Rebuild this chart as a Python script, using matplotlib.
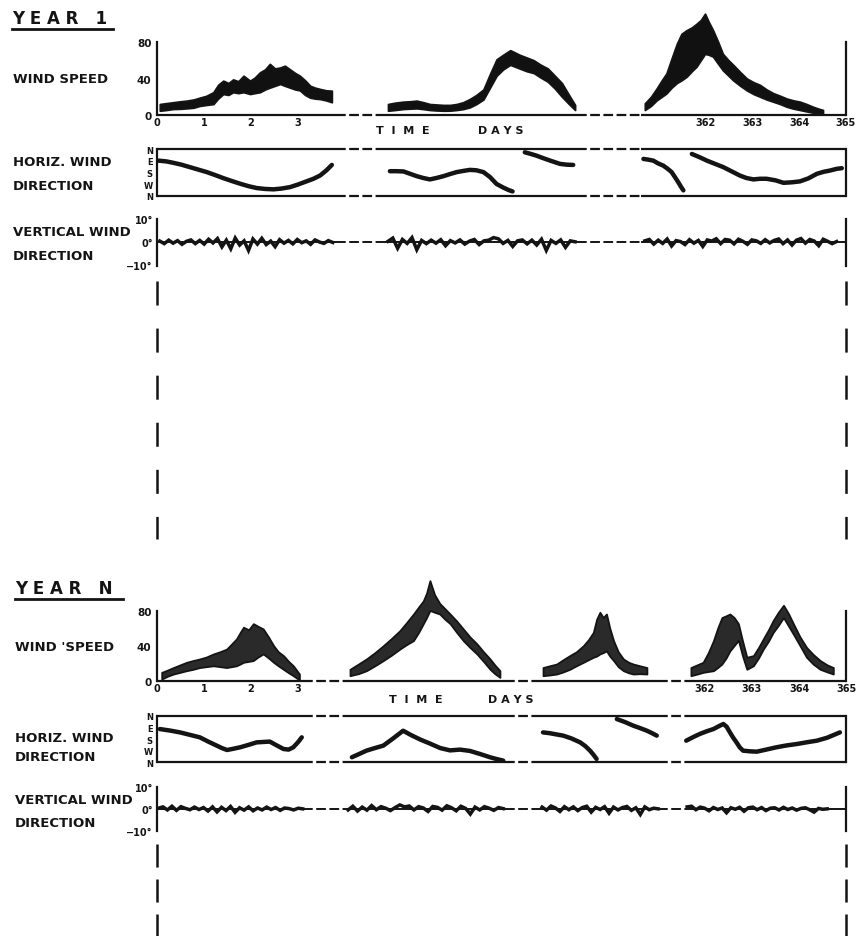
import numpy as np
import matplotlib
matplotlib.use("Agg")
import matplotlib.pyplot as plt

plt.rcParams['font.family'] = ['DejaVu Sans']
plt.rcParams['font.weight'] = 'bold'
plt.rcParams['lines.scale_dashes'] = False

INK = '#141414'
W, H = 857, 937

# ---------------- DATA ----------------
# axis breaks (days) : solid pieces are (k0,k1), (k2,k3), ...
Y1_BREAK_DAYS = [0, 3.8, 179.94, 184.02, 360.64, 365]
YN_BREAK_DAYS = [0, 3.1, 99.9, 103.3, 249.94, 252.45, 361.6, 365]
X_TICKS = [0, 1, 2, 3, 362, 363, 364, 365]
X_TICK_LABELS = ['0', '1', '2', '3', '362', '363', '364', '365']
SPEED_TICKS = [0, 40, 80]
SPEED_TICK_LABELS = ['0', '40', '80']
HDIR_TICKS = [0, 90, 180, 270, 360]
HDIR_TICK_LABELS = ['N', 'E', 'S', 'W', 'N']
VDIR_TICKS = [10, 0, -10]
VDIR_TICK_LABELS = ['10°', '0°', '−10°']

# Year 1 wind speed (band: lower / upper)
y1_spd_a_day = [0.06, 0.2, 0.35, 0.5, 0.63, 0.78, 0.91, 1.05, 1.20, 1.30, 1.41, 1.52, 1.62, 1.73, 1.84, 1.98,
                2.08, 2.19, 2.30, 2.40, 2.51, 2.62, 2.72, 2.83, 2.94, 3.04, 3.15, 3.26, 3.36, 3.47, 3.60, 3.72]
y1_spd_a_hi = [12, 13, 14, 15, 15.7, 17, 19, 21, 25, 33, 37.6, 35, 39, 37, 43, 37.6, 41, 46.7, 50, 56, 51, 52,
               54, 50, 46, 43, 38, 32, 30, 28.5, 27, 26.6]
y1_spd_a_lo = [4.7, 5.5, 6.6, 6.8, 7.3, 8, 10, 11, 12, 18, 23, 22, 25, 24, 25, 23, 24, 25, 28, 30, 32, 34, 32,
               30, 28, 27, 22, 19, 18, 17.5, 16, 14]
y1_spd_b_day = [180.0, 180.15, 180.33, 180.47, 180.61, 180.75, 180.89, 181.03, 181.18, 181.32, 181.46, 181.6,
                181.74, 181.88, 182.03, 182.17, 182.31, 182.45, 182.6, 182.8, 182.95, 183.1, 183.25, 183.4,
                183.55, 183.7, 183.85, 183.98]
y1_spd_b_hi = [12, 13.5, 14.6, 15, 15.7, 14, 12, 11.5, 11, 11, 12, 14, 17.5, 22, 28, 45, 61, 66, 71, 66, 63, 60,
               55, 51, 43, 35, 22, 11]
y1_spd_b_lo = [4.7, 5.5, 6.6, 7, 7.3, 6.5, 5.5, 5, 4.7, 4.8, 5.5, 6.5, 8.4, 12, 17, 30, 43, 50, 55, 51, 48, 46,
               41, 36.5, 29, 20, 12, 5.5]
y1_spd_c_day = [360.72, 360.85, 360.97, 361.08, 361.18, 361.29, 361.40, 361.50, 361.61, 361.72, 361.82, 361.91,
                362.0, 362.08, 362.17, 362.28, 362.38, 362.5, 362.6, 362.75, 362.89, 363.03, 363.17, 363.31,
                363.45, 363.6, 363.74, 363.88, 364.02, 364.16, 364.30, 364.41, 364.51]
y1_spd_c_hi = [12.8, 20, 29, 38, 45.6, 62, 78, 89, 93, 96, 100, 104, 111, 102, 93, 80, 67, 60, 55, 47, 40, 36, 33,
               28, 24, 21, 18, 16, 14.6, 12, 9, 7, 5.5]
y1_spd_c_lo = [5.5, 10, 16, 20, 23.7, 30, 35, 38, 42, 48, 53, 60, 67, 66, 64, 56, 49, 43, 38, 32, 27, 23, 20, 17,
               14.6, 12, 9, 7, 5.5, 4, 2.5, 1.5, 1]

# Year 1 horizontal wind direction (degrees, N = 0 / 360)
y1_hdir_a_day = [0.03, 0.2, 0.35, 0.52, 0.70, 0.88, 1.06, 1.24, 1.41, 1.59, 1.77, 1.95, 2.12, 2.30, 2.48, 2.65,
                 2.83, 3.0, 3.18, 3.33, 3.47, 3.60, 3.72]
y1_hdir_a_deg = [89, 95, 106, 120, 139, 158, 177, 200, 223, 245, 266, 285, 299, 306, 309, 303, 292, 272, 248, 228,
                 203, 165, 122]
y1_hdir_b1_day = [180.04, 180.18, 180.33, 180.47, 180.61, 180.75, 180.89, 181.03, 181.18, 181.32, 181.46, 181.6,
                  181.74, 181.88, 182.03, 182.17, 182.31, 182.45, 182.57, 182.65]
y1_hdir_b1_deg = [170, 170, 172, 190, 208, 222, 233, 222, 208, 192, 177, 168, 160, 163, 177, 215, 268, 295, 315, 325]
y1_hdir_b2_day = [182.91, 183.04, 183.16, 183.3, 183.45, 183.56, 183.66, 183.8, 183.94]
y1_hdir_b2_deg = [25, 38, 51, 70, 89, 102, 114, 120, 122]
y1_hdir_c1_day = [360.69, 360.8, 360.9, 361.0, 361.11, 361.2, 361.29, 361.36, 361.43, 361.49, 361.54]
y1_hdir_c1_deg = [76, 82, 89, 110, 127, 150, 177, 215, 254, 290, 317]
y1_hdir_c2_day = [361.72, 361.88, 362.04, 362.2, 362.39, 362.56, 362.74, 362.88, 363.03, 363.17, 363.31, 363.5,
                  363.67, 363.85, 364.02, 364.2, 364.38, 364.52, 364.66, 364.8, 364.91]
y1_hdir_c2_deg = [38, 62, 89, 112, 139, 170, 203, 222, 233, 228, 228, 240, 259, 255, 248, 225, 190, 175, 165, 152, 147]

# Year 1 vertical wind direction (degrees), evenly spaced samples over each record
y1_vdir_a_span = (0.06, 3.74)
y1_vdir_a = [0.5, -0.6, 0.9, -0.4, 0.7, -0.9, 0.4, 1.0, -0.6, 0.8, -0.8, 1.3, -0.3, 1.6, -2.0, 0.9, -2.8, 1.8,
             -1.2, 0.6, -3.5, 1.4, -0.8, 1.7, -1.0, 0.5, -1.9, 1.1, -0.4, 0.8, -0.7, 1.2, -0.2, 0.6, -0.9, 1.0,
             0.1, -0.5, 0.7, -0.1]
y1_vdir_b_span = (180.0, 183.98)
y1_vdir_b = [0.4, 1.8, -2.6, 1.2, -0.5, 2.0, -3.2, 0.8, -0.6, 0.9, -0.4, 1.1, -1.5, 0.7, -0.3, 1.0, -0.8, 0.5,
             1.2, -1.0, 0.6, 0.9, 2.0, 1.5, -0.5, 0.8, -1.8, 0.6, 1.0, -0.7, 0.9, -1.2, 1.3, -3.5, 0.8, -0.5,
             1.0, -2.2, 0.6, 0.2]
y1_vdir_c_span = (360.72, 364.8)
y1_vdir_c = [0.6, 1.2, -0.8, 0.9, -0.5, 1.4, -1.6, 0.7, 0.3, -1.0, 1.1, -0.4, 0.8, -1.8, 1.0, 0.5, 1.5, -0.6,
             1.2, 0.9, -0.7, 1.3, 0.4, -0.9, 1.0, 0.6, -0.5, 1.1, -0.3, 0.8, 1.4, -0.6, 1.0, -1.2, 0.9, 1.6,
             -0.4, 1.2, 0.5, -1.5, 1.3, 0.4, -0.6, 0.3]

# Year N wind speed
yn_spd_a_day = [0.10, 0.22, 0.35, 0.49, 0.63, 0.77, 0.91, 1.05, 1.20, 1.34, 1.48, 1.59, 1.69, 1.77, 1.84, 1.95,
                2.05, 2.15, 2.26, 2.37, 2.48, 2.58, 2.69, 2.80, 2.90, 3.03]
yn_spd_a_hi = [9.5, 12, 15, 18, 21, 23, 24.8, 27, 30.5, 33, 36, 42, 47.6, 55, 61, 58, 65, 62, 59, 50, 40, 33,
               28.6, 22, 17, 7.6]
yn_spd_a_lo = [1.9, 5, 7.6, 9.5, 11.4, 13, 15, 16, 17, 16, 15, 16, 17, 19, 21, 22, 23, 27, 30.5, 26, 21, 17, 13,
               9, 5.7, 0.8]
yn_spd_b_day = [100.0, 100.18, 100.35, 100.53, 100.71, 100.88, 101.06, 101.2, 101.35, 101.46, 101.56, 101.63,
                101.70, 101.8, 101.91, 102.02, 102.13, 102.27, 102.41, 102.55, 102.70, 102.84, 102.98, 103.08,
                103.19]
yn_spd_b_hi = [13, 19, 24.8, 32, 40, 48, 57, 66, 76, 84, 91, 100, 114, 98, 88, 82, 76, 68, 59, 50, 42, 33, 24.8,
               18, 11.4]
yn_spd_b_lo = [5.7, 8, 11.4, 17, 23, 29, 36, 41, 45.7, 55, 65, 72, 80, 78, 76, 70, 65, 55, 45.7, 38, 30.5, 22, 13,
               8, 3.8]
yn_spd_c_day = [250.0, 250.14, 250.29, 250.43, 250.57, 250.71, 250.86, 250.97, 251.07, 251.14, 251.21, 251.28,
                251.35, 251.42, 251.50, 251.6, 251.71, 251.82, 251.92, 252.06, 252.21]
yn_spd_c_hi = [15, 17, 19, 24, 28.6, 33, 40, 47, 55, 70, 78, 72, 76, 60, 45.7, 33, 24.8, 21, 19, 17, 15]
yn_spd_c_lo = [5.7, 6.5, 7.6, 10, 13, 17, 21, 24, 26.7, 28, 30.5, 32, 34, 28, 23, 16, 11.4, 9, 7.6, 8, 7.6]
yn_spd_d_day = [361.70, 361.83, 361.96, 362.07, 362.18, 362.27, 362.36, 362.45, 362.53, 362.62, 362.71, 362.80,
                362.89, 363.03, 363.14, 363.24, 363.35, 363.45, 363.56, 363.67, 363.78, 363.88, 364.02, 364.16,
                364.3, 364.45, 364.6, 364.73]
yn_spd_d_hi = [15, 18, 21, 32, 45.7, 60, 72, 74, 76, 72, 65, 45, 26.7, 28.6, 38, 47.6, 58, 68.6, 78, 86, 76, 65,
               50, 38, 30, 23, 18, 15]
yn_spd_d_lo = [5.7, 7.5, 9.5, 10.5, 11.4, 15, 19, 26, 34, 40, 46, 28, 13, 17, 26, 36, 45, 55, 63, 72, 62, 53, 40,
               26.7, 19, 13, 10, 7.6]

# Year N horizontal wind direction
yn_hdir_a_day = [0.06, 0.28, 0.49, 0.70, 0.91, 1.09, 1.27, 1.38, 1.49, 1.63, 1.77, 1.95, 2.12, 2.26, 2.40, 2.55,
                 2.69, 2.80, 2.90, 3.0, 3.08]
yn_hdir_a_deg = [103, 115, 129, 148, 167, 200, 231, 250, 265, 255, 244, 225, 206, 203, 200, 230, 257, 262, 244,
                 205, 167]
yn_hdir_b_day = [100.04, 100.2, 100.35, 100.53, 100.71, 100.92, 101.13, 101.3, 101.5, 101.70, 101.92, 102.13,
                 102.34, 102.55, 102.76, 102.98, 103.12, 103.26]
yn_hdir_b_deg = [321, 295, 270, 250, 231, 175, 116, 150, 185, 215, 250, 268, 262, 272, 295, 321, 335, 347]
yn_hdir_c1_day = [250.0, 250.14, 250.29, 250.43, 250.6, 250.79, 250.9, 251.0, 251.07, 251.14]
yn_hdir_c1_deg = [129, 135, 145, 154, 175, 206, 235, 270, 300, 334]
yn_hdir_c2_day = [251.57, 251.75, 251.92, 252.06, 252.21, 252.32, 252.42]
yn_hdir_c2_deg = [26, 50, 77, 95, 116, 135, 154]
yn_hdir_d_day = [361.6, 361.75, 361.89, 362.04, 362.18, 362.3, 362.39, 362.46, 362.53, 362.6, 362.67, 362.74,
                 362.81, 362.95, 363.10, 363.3, 363.52, 363.73, 363.95, 364.17, 364.38, 364.6, 364.87]
yn_hdir_d_deg = [193, 165, 141, 120, 103, 80, 64, 85, 129, 170, 206, 245, 270, 275, 278, 262, 244, 230, 219, 205,
                 193, 170, 129]

# Year N vertical wind direction
yn_vdir_a_span = (0.03, 3.1)
yn_vdir_a = [0.3, 0.9, -0.5, 1.2, -0.7, 1.0, 0.2, -0.4, 0.8, -0.3, 0.6, -1.0, 0.9, -1.4, 0.7, -0.8, 1.1, -1.6,
             0.5, -0.6, 0.9, -0.9, 0.4, -0.5, 0.8, -0.3, 0.6, -0.7, 0.4, 0.1, -0.5, 0.3, 0.0]
yn_vdir_b_span = (99.96, 103.26)
yn_vdir_b = [-0.5, 1.2, -1.0, 0.8, -0.6, 1.5, -0.4, 1.0, 0.3, -0.8, 0.6, 1.8, 0.9, 1.3, -0.5, 1.0, 0.4, -1.2,
             1.1, 0.7, -0.6, 1.4, 0.5, -0.9, 1.2, 0.2, -2.4, 0.8, -0.5, 1.0, 0.3, -0.7, 0.6, 0.1]
yn_vdir_c_span = (249.98, 252.45)
yn_vdir_c = [0.8, -0.6, 1.3, 0.4, -1.2, 1.0, -0.4, 0.9, -0.8, 0.6, 1.2, -1.5, 0.7, -0.3, 1.0, -2.0, 0.8, -0.5,
             0.6, 1.1, -0.7, 0.5, -2.6, 0.9, -0.4, 0.3, 0.0]
yn_vdir_d_span = (361.62, 364.6)
yn_vdir_d = [0.9, 1.2, -0.4, 0.8, 0.3, -0.9, 0.6, -0.3, 0.4, -1.8, 0.5, -0.2, 0.7, -1.1, 0.5, 0.8, -0.4, 0.6,
             -0.8, 0.3, 0.5, -0.5, 0.7, -0.3, 0.4, -0.6, 0.2, 0.5, -0.4, -1.5, 0.2, -0.2, 0.0]


# ---------------- helpers ----------------
def piecewise(kx, ky):
    kx = np.asarray(kx, float)
    ky = np.asarray(ky, float)
    s0 = (ky[1] - ky[0]) / (kx[1] - kx[0])
    s1 = (ky[-1] - ky[-2]) / (kx[-1] - kx[-2])

    def f(v):
        v = np.asarray(v, float)
        out = np.interp(v, kx, ky)
        out = np.where(v < kx[0], ky[0] + (v - kx[0]) * s0, out)
        out = np.where(v > kx[-1], ky[-1] + (v - kx[-1]) * s1, out)
        return out
    return f


def break_pixels(days, segs_start_px):
    # positions of the axis pieces on the page (47 px per day inside each piece)
    px = []
    for i in range(0, len(days), 2):
        p0 = segs_start_px[i // 2]
        px.append(p0)
        px.append(p0 + 47.0 * (days[i + 1] - days[i]))
    return px


def rect(l, t, r, b):
    return [l / W, 1 - b / H, (r - l) / W, (b - t) / H]


def ftext(x, y, s, size=9.5, ha='left'):
    fig.text(x / W, 1 - y / H, s, fontsize=size, fontweight='bold', ha=ha, va='center', color=INK)


def broken_line(ax, kd, yv, lw=1.6):
    for i in range(0, len(kd), 2):
        ax.plot([kd[i], kd[i + 1]], [yv, yv], color=INK, lw=lw, solid_capstyle='butt', clip_on=False)
        if i + 2 < len(kd):
            ax.plot([kd[i + 1], kd[i + 2]], [yv, yv], color=INK, lw=lw, ls=(0, (7, 2.5)), clip_on=False)


def make_axes(rc, kd, kp, ylim):
    ax = fig.add_axes(rect(*rc))
    fwd = piecewise(kd, kp)
    inv = piecewise(kp, kd)
    ax.set_xscale('function', functions=(fwd, inv))
    ax.set_xlim(kd[0], kd[-1])
    ax.set_ylim(*ylim)
    ax.patch.set_alpha(0)
    for s in ('top', 'bottom'):
        ax.spines[s].set_visible(False)
    for s in ('left', 'right'):
        ax.spines[s].set_linewidth(1.6)
        ax.spines[s].set_color(INK)
    ax.tick_params(length=0, colors=INK)
    ax.set_xticks([])
    return ax


fig = plt.figure(figsize=(W / 100, H / 100), dpi=100)
fig.patch.set_facecolor('white')

years = [
    dict(title='Y E A R   1', ty=19, ul=(12, 113, 30), lx=13,
         kd=Y1_BREAK_DAYS, starts=[157, 385.2, 641.1],
         spd=(43, 116), hdir=(150, 197), vdir=(220, 266.5),
         labels=[('WIND SPEED', 79.5), ('HORIZ. WIND', 162.5), ('DIRECTION', 186),
                 ('VERTICAL WIND', 232), ('DIRECTION', 257)],
         time_y=131, time_x=(403, 501),
         speed=[(y1_spd_a_day, y1_spd_a_lo, y1_spd_a_hi), (y1_spd_b_day, y1_spd_b_lo, y1_spd_b_hi),
                (y1_spd_c_day, y1_spd_c_lo, y1_spd_c_hi)],
         sfill='#111111',
         hd=[(y1_hdir_a_day, y1_hdir_a_deg), (y1_hdir_b1_day, y1_hdir_b1_deg), (y1_hdir_b2_day, y1_hdir_b2_deg),
             (y1_hdir_c1_day, y1_hdir_c1_deg), (y1_hdir_c2_day, y1_hdir_c2_deg)],
         vd=[(y1_vdir_a_span, y1_vdir_a), (y1_vdir_b_span, y1_vdir_b), (y1_vdir_c_span, y1_vdir_c)],
         dash=(282, 540, (0, (17.3, 16.6)))),
    dict(title='Y E A R   N', ty=589, ul=(15, 123, 600), lx=15,
         kd=YN_BREAK_DAYS, starts=[157, 345.3, 540.2, 686.2],
         spd=(611.5, 681.7), hdir=(716.7, 763.3), vdir=(788, 831.7),
         labels=[("WIND 'SPEED", 647.5), ('HORIZ. WIND', 739), ('DIRECTION', 757.5),
                 ('VERTICAL WIND', 801), ('DIRECTION', 824)],
         time_y=700, time_x=(416, 511),
         speed=[(yn_spd_a_day, yn_spd_a_lo, yn_spd_a_hi), (yn_spd_b_day, yn_spd_b_lo, yn_spd_b_hi),
                (yn_spd_c_day, yn_spd_c_lo, yn_spd_c_hi), (yn_spd_d_day, yn_spd_d_lo, yn_spd_d_hi)],
         sfill='#2a2a2a',
         hd=[(yn_hdir_a_day, yn_hdir_a_deg), (yn_hdir_b_day, yn_hdir_b_deg), (yn_hdir_c1_day, yn_hdir_c1_deg),
             (yn_hdir_c2_day, yn_hdir_c2_deg), (yn_hdir_d_day, yn_hdir_d_deg)],
         vd=[(yn_vdir_a_span, yn_vdir_a), (yn_vdir_b_span, yn_vdir_b), (yn_vdir_c_span, yn_vdir_c),
             (yn_vdir_d_span, yn_vdir_d)],
         dash=(845, 937, (0, (16.6, 8.6)))),
]

ov = fig.add_axes([0, 0, 1, 1], zorder=-1)
ov.set_xlim(0, W)
ov.set_ylim(H, 0)
ov.axis('off')

L, R = 157, 846
for Y in years:
    kd = Y['kd']
    kp = break_pixels(kd, Y['starts'])

    # titles and row labels
    ftext(Y['ul'][0], Y['ty'], Y['title'], size=12)
    ov.plot([Y['ul'][0], Y['ul'][1]], [Y['ul'][2], Y['ul'][2]], color=INK, lw=2)
    for s, yy in Y['labels']:
        ftext(Y['lx'], yy, s, size=9.5)
    ftext(Y['time_x'][0], Y['time_y'], 'T  I  M  E', size=8, ha='center')
    ftext(Y['time_x'][1], Y['time_y'], 'D A Y S', size=8, ha='center')

    # wind speed
    ax = make_axes((L, Y['spd'][0], R, Y['spd'][1]), kd, kp, (0, 80))
    broken_line(ax, kd, 0)
    for d, lo, hi in Y['speed']:
        ax.fill_between(d, lo, hi, color=Y['sfill'], lw=1.3, edgecolor=INK, clip_on=False)
    ax.set_xticks(X_TICKS)
    ax.set_xticklabels(X_TICK_LABELS)
    ax.set_yticks(SPEED_TICKS)
    ax.set_yticklabels(SPEED_TICK_LABELS)
    ax.tick_params(axis='x', labelsize=7, pad=1.5)
    ax.tick_params(axis='y', labelsize=7.5, pad=4)

    # horizontal wind direction
    ax = make_axes((L, Y['hdir'][0], R, Y['hdir'][1]), kd, kp, (360, 0))
    broken_line(ax, kd, 0)
    broken_line(ax, kd, 360)
    for d, v in Y['hd']:
        ax.plot(d, v, color=INK, lw=3.2, solid_capstyle='round', solid_joinstyle='round')
    ax.set_yticks(HDIR_TICKS)
    ax.set_yticklabels(HDIR_TICK_LABELS)
    ax.tick_params(axis='y', labelsize=6, pad=3)

    # vertical wind direction
    ax = make_axes((L, Y['vdir'][0], R, Y['vdir'][1]), kd, kp, (-10, 10))
    broken_line(ax, kd, 0, lw=1.4)
    for (d0, d1), v in Y['vd']:
        ax.plot(np.linspace(d0, d1, len(v)), v, color=INK, lw=2.5, solid_joinstyle='miter')
    ax.set_yticks(VDIR_TICKS)
    ax.set_yticklabels(VDIR_TICK_LABELS)
    ax.tick_params(axis='y', labelsize=7, pad=3)

    # dashed continuation of the time-scale edges
    y0, y1, ls = Y['dash']
    for xx in (L, R):
        ov.plot([xx, xx], [y0, y1], color=INK, lw=1.8, ls=ls, solid_capstyle='butt')

fig.savefig('out.png', dpi=100, facecolor='white')
